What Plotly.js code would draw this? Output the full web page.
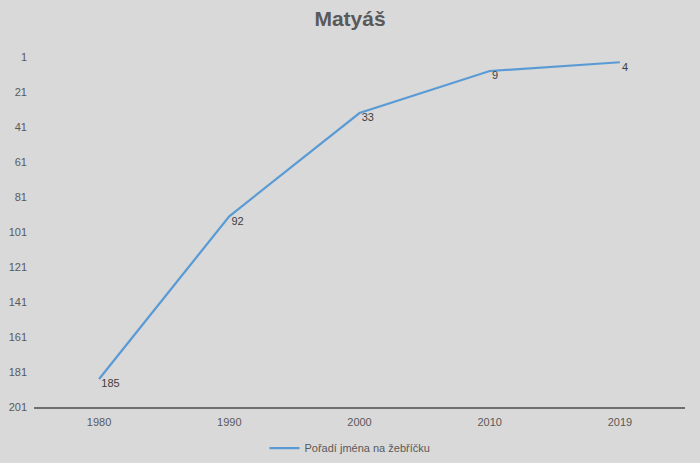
<!DOCTYPE html>
<html>
<head>
<meta charset="utf-8">
<script src="https://cdn.plot.ly/plotly-3.0.1.min.js"></script>
<style>
  html, body { margin: 0; padding: 0; background: #d9d9d9; }
  #chart { width: 700px; height: 463px; }
</style>
</head>
<body>
<div id="chart"></div>
<script>
// Pořadí jména Matyáš v žebříčku
const years = ["1980", "1990", "2000", "2010", "2019"];
const rank = [185, 92, 33, 9, 4];
const yTicks = [1, 21, 41, 61, 81, 101, 121, 141, 161, 181, 201];

const FONT = "Liberation Sans, Arial, sans-serif";

const trace = {
  x: years,
  y: rank,
  name: "Pořadí jména na žebříčku",
  type: "scatter",
  mode: "lines+text",
  text: rank.map(v => "\u2009" + v),
  textposition: "bottom right",
  textfont: { family: FONT, size: 11, color: "#404040" },
  line: { color: "#5b9bd5", width: 2.25 },
  cliponaxis: false
};

const layout = {
  width: 700,
  height: 463,
  margin: { l: 34, r: 15, t: 57, b: 56 },
  paper_bgcolor: "#d9d9d9",
  plot_bgcolor: "#d9d9d9",
  font: { family: FONT, size: 11, color: "#595959" },
  title: {
    text: "<b>Matyáš</b>",
    font: { family: FONT, size: 21, color: "#595959" },
    x: 0.5, xanchor: "center",
    y: 0.96, yanchor: "middle"
  },
  xaxis: {
    type: "category",
    range: [-0.5, 4.5],
    showgrid: false,
    showline: true,
    linecolor: "#6e6e6e",
    linewidth: 2,
    ticks: "",
    zeroline: false,
    ticklabelstandoff: 4,
    tickfont: { family: FONT, size: 11, color: "#595959" }
  },
  yaxis: {
    range: [201, 1],
    tickvals: yTicks,
    ticktext: yTicks.map(String),
    showgrid: false,
    zeroline: false,
    showline: false,
    ticks: "",
    ticklabelstandoff: 6,
    tickfont: { family: FONT, size: 11, color: "#595959" }
  },
  showlegend: true,
  legend: {
    orientation: "h",
    xref: "container", yref: "container",
    x: 0.5, xanchor: "center",
    y: 0.032, yanchor: "middle",
    bgcolor: "rgba(0,0,0,0)",
    font: { family: FONT, size: 11, color: "#595959" }
  }
};

Plotly.newPlot("chart", [trace], layout, { displayModeBar: false, staticPlot: true });
</script>
</body>
</html>
